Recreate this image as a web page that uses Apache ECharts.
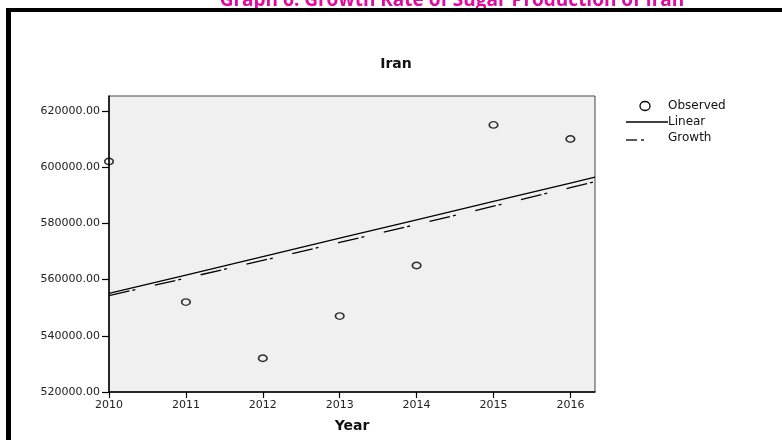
<!DOCTYPE html>
<html>
<head>
<meta charset="utf-8">
<style>
  html, body { margin: 0; padding: 0; background: #ffffff; }
  #chart { width: 782px; height: 440px; }
</style>
<script src="https://cdn.jsdelivr.net/npm/echarts@6/dist/echarts.min.js"></script>
</head>
<body>
<div id="chart"></div>
<script>
// Sugar production of Iran, observed values with linear and growth curve fits
const years = [2010, 2011, 2012, 2013, 2014, 2015, 2016];
const observed = [602000, 552000, 532000, 547000, 565000, 615000, 610000];

// fitted curves, sampled at each year and at the right edge of the plot
const fitYears = [2010, 2011, 2012, 2013, 2014, 2015, 2016, 2016.32];
const linearFit = [555100, 561600, 568200, 574700, 581200, 587800, 594300, 596400];
const growthFit = [554300, 560500, 566800, 573200, 579600, 586100, 592700, 594800];

const yTicks = [520000, 540000, 560000, 580000, 600000, 620000];
const seriesNames = ['Observed', 'Linear', 'Growth'];
const pageTitle = 'Graph 6: Growth Rate of Sugar Production of Iran';
const chartTitle = 'Iran';
const xName = 'Year';

const FONT = 'DejaVu Sans';
const pair = (xs, ys) => xs.map((x, i) => [x, ys[i]]);

const chart = echarts.init(document.getElementById('chart'));

chart.setOption({
  animation: false,
  backgroundColor: '#ffffff',
  title: {
    text: chartTitle,
    left: 391,
    top: 52,
    textAlign: 'center',
    textStyle: { fontFamily: FONT, fontSize: 14, fontWeight: 'bold', color: '#111' }
  },
  grid: {
    left: 109, top: 96, right: 187, bottom: 48,
    show: true,
    backgroundColor: '#f0f0f0',
    borderColor: '#444',
    borderWidth: 1
  },
  xAxis: {
    type: 'value',
    min: 2010,
    max: 2016.32,
    interval: 1,
    name: xName,
    nameLocation: 'middle',
    nameGap: 27,
    nameTextStyle: { fontFamily: FONT, fontSize: 14, fontWeight: 'bold', color: '#111' },
    splitLine: { show: false },
    axisLine: { onZero: false, lineStyle: { color: '#000', width: 1.5 } },
    axisTick: { show: true, length: 6, customValues: years, lineStyle: { color: '#000', width: 1.2 } },
    axisLabel: {
      customValues: years,
      margin: 8,
      fontFamily: FONT, fontSize: 11, color: '#222',
      formatter: v => String(Math.round(v))
    }
  },
  yAxis: {
    type: 'value',
    min: 520000,
    max: 625300,
    interval: 20000,
    splitLine: { show: false },
    axisLine: { onZero: false, lineStyle: { color: '#000', width: 1.5 } },
    axisTick: { show: true, length: 7, customValues: yTicks, lineStyle: { color: '#000', width: 1.2 } },
    axisLabel: {
      customValues: yTicks,
      margin: 9,
      fontFamily: FONT, fontSize: 11, color: '#222',
      formatter: v => v.toFixed(2)
    }
  },
  series: [
    {
      name: seriesNames[0],
      type: 'scatter',
      data: pair(years, observed),
      symbol: 'circle',
      symbolSize: [8.5, 6.5],
      itemStyle: { color: 'rgba(0,0,0,0)', borderColor: '#000', borderWidth: 1.5 },
      z: 5
    },
    {
      name: seriesNames[1],
      type: 'line',
      data: pair(fitYears, linearFit),
      showSymbol: false,
      lineStyle: { color: '#000', width: 1.3 },
      z: 3
    },
    {
      name: seriesNames[2],
      type: 'line',
      data: pair(fitYears, growthFit),
      showSymbol: false,
      lineStyle: { color: '#000', width: 1.3, type: [21, 3, 3, 20] },
      z: 3
    }
  ],
  graphic: [
    // heading above the framed chart
    {
      type: 'text',
      style: {
        text: pageTitle, x: 452, y: -9,
        align: 'center', verticalAlign: 'top',
        fill: '#e00aa0',
        font: 'bold 19px "Open Sans"'
      },
      silent: true
    },
    // thick outer frame (left and top edges)
    { type: 'rect', shape: { x: 6, y: 8, width: 776, height: 4 }, style: { fill: '#000' }, silent: true },
    { type: 'rect', shape: { x: 6, y: 8, width: 5, height: 432 }, style: { fill: '#000' }, silent: true },
    // legend
    { type: 'ellipse', shape: { cx: 645, cy: 106, rx: 5, ry: 4.5 }, style: { fill: 'none', stroke: '#000', lineWidth: 1.3 } },
    { type: 'text', style: { text: seriesNames[0], x: 668, y: 106, verticalAlign: 'middle', fill: '#111', font: '12px "DejaVu Sans"' } },
    { type: 'line', shape: { x1: 626, y1: 122, x2: 668, y2: 122 }, style: { stroke: '#000', lineWidth: 1.3 } },
    { type: 'text', style: { text: seriesNames[1], x: 668, y: 122, verticalAlign: 'middle', fill: '#111', font: '12px "DejaVu Sans"' } },
    { type: 'line', shape: { x1: 626, y1: 140, x2: 637, y2: 140 }, style: { stroke: '#000', lineWidth: 1.3 } },
    { type: 'line', shape: { x1: 641, y1: 140, x2: 644, y2: 140 }, style: { stroke: '#000', lineWidth: 1.3 } },
    { type: 'text', style: { text: seriesNames[2], x: 668, y: 138, verticalAlign: 'middle', fill: '#111', font: '12px "DejaVu Sans"' } }
  ]
});
</script>
</body>
</html>
